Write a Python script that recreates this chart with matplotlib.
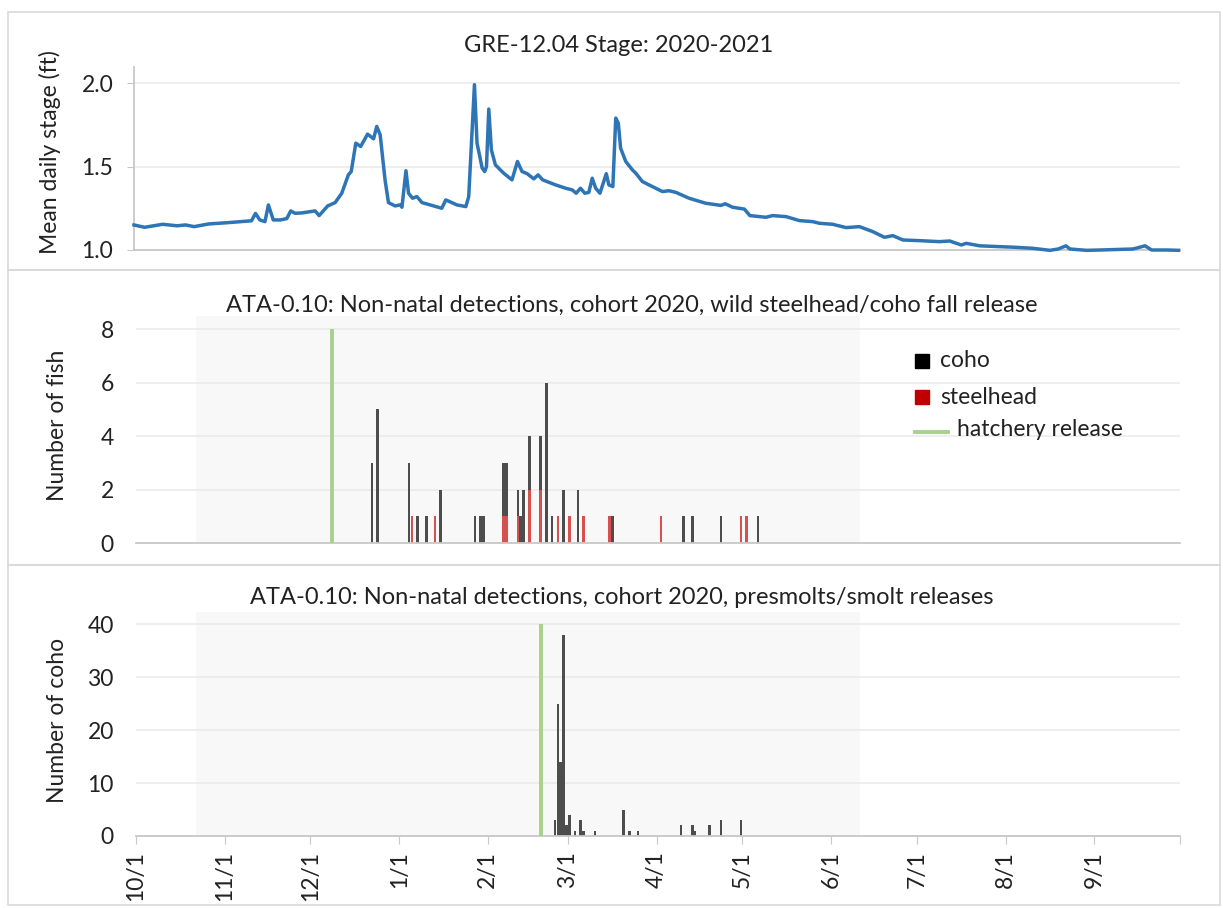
import numpy as np
import pandas as pd
import matplotlib
matplotlib.use('Agg')
import matplotlib.pyplot as plt
import matplotlib.dates as mdates
from matplotlib.lines import Line2D
from matplotlib.ticker import FuncFormatter

plt.rcParams['font.family'] = ['Lato', 'DejaVu Sans']

start = pd.Timestamp('2020-10-01')
end = pd.Timestamp('2021-10-01')

# mean daily stage (days after 10/1/2020)
stage_day = [0, 3.7, 10, 15, 18, 21, 26, 33, 37.5, 41, 42.4, 43.9, 45.7, 46.9, 48.6, 51,
             53.3, 54.7, 56.2, 58.5, 63.2, 64.6, 67.6, 70.2, 72.5, 74.8, 75.8, 77.4, 79.1,
             81.5, 83.6, 84.7, 85.9, 87.6, 88.8, 91.1, 92.9, 93.5, 94.9, 95.8, 97.2, 98.7,
             100.5, 107.4, 108.8, 110.9, 112.7, 115.8, 116.8, 118.8, 119.7, 121.5, 122.4,
             123, 123.8, 124.7, 126.1, 129, 131.9, 133.8, 135.4, 137.2, 139.5, 141, 142.6,
             147.1, 150.6, 152.9, 154.3, 155.8, 157.3, 158.7, 159.9, 161.1, 162.6, 164.8,
             165.7, 167.1, 168.1, 169, 169.8, 171.6, 173.9, 175.1, 177.4, 179.7, 184.4,
             186.7, 189.1, 193.7, 199.5, 204.8, 206.3, 208.9, 213, 214.9, 220.5, 222.8,
             227.5, 232.2, 236.8, 239.2, 243.8, 248.5, 253.1, 257.8, 261.9, 264.8, 268.3,
             274.1, 281.1, 284.6, 288.7, 290.4, 295.1, 302, 307.9, 313.7, 319.6, 322.5,
             325.2, 326.6, 332.4, 337.1, 348.6, 352.8, 355.1, 360.4, 364.5]
stage_ft = [1.15, 1.136, 1.154, 1.145, 1.15, 1.14, 1.156, 1.164, 1.17, 1.175, 1.219, 1.18,
            1.17, 1.27, 1.18, 1.18, 1.188, 1.234, 1.22, 1.222, 1.234, 1.206, 1.264, 1.284,
            1.34, 1.45, 1.47, 1.64, 1.62, 1.694, 1.666, 1.74, 1.69, 1.42, 1.284, 1.264, 1.27,
            1.256, 1.475, 1.34, 1.31, 1.32, 1.284, 1.25, 1.30, 1.284, 1.27, 1.26, 1.32, 1.99,
            1.64, 1.49, 1.47, 1.50, 1.844, 1.60, 1.51, 1.46, 1.42, 1.53, 1.47, 1.457, 1.426,
            1.45, 1.42, 1.39, 1.37, 1.36, 1.34, 1.37, 1.34, 1.345, 1.43, 1.37, 1.34, 1.457,
            1.39, 1.38, 1.79, 1.76, 1.61, 1.53, 1.48, 1.46, 1.41, 1.39, 1.35, 1.355, 1.345,
            1.31, 1.28, 1.267, 1.277, 1.256, 1.245, 1.206, 1.196, 1.206, 1.20, 1.176, 1.17,
            1.16, 1.154, 1.134, 1.14, 1.11, 1.076, 1.086, 1.06, 1.056, 1.05, 1.054, 1.03,
            1.04, 1.025, 1.02, 1.016, 1.01, 0.998, 1.006, 1.025, 1.006, 0.998, 1.0, 1.006,
            1.025, 1.0, 1.0, 0.998]

# non-natal detections, wild fall release
fall_dates = ['2020-12-22', '2020-12-24', '2021-01-04', '2021-01-05', '2021-01-07',
              '2021-01-10', '2021-01-13', '2021-01-15', '2021-01-27', '2021-01-29',
              '2021-01-30', '2021-02-06', '2021-02-07', '2021-02-11', '2021-02-12',
              '2021-02-13', '2021-02-15', '2021-02-19', '2021-02-21', '2021-02-23',
              '2021-02-25', '2021-02-27', '2021-03-01', '2021-03-04', '2021-03-06',
              '2021-03-15', '2021-03-16', '2021-04-02', '2021-04-10', '2021-04-13',
              '2021-04-23', '2021-04-30', '2021-05-02', '2021-05-06']
fall_coho = [3, 5, 3, 0, 1, 1, 0, 2, 1, 1, 1, 2, 2, 1, 1, 2, 2, 2, 6, 1,
             0, 2, 0, 2, 0, 0, 1, 0, 1, 1, 1, 0, 0, 1]
fall_steelhead = [0, 0, 0, 1, 0, 0, 1, 0, 0, 0, 0, 1, 1, 1, 0, 0, 2, 2, 0, 0,
                  1, 0, 1, 0, 1, 1, 0, 1, 0, 0, 0, 1, 1, 0]

# non-natal detections, presmolt/smolt releases (coho)
smolt_dates = ['2021-02-24', '2021-02-25', '2021-02-26', '2021-02-27', '2021-02-28',
               '2021-03-01', '2021-03-03', '2021-03-05', '2021-03-06', '2021-03-10',
               '2021-03-20', '2021-03-22', '2021-03-25', '2021-04-09', '2021-04-13',
               '2021-04-14', '2021-04-19', '2021-04-23', '2021-04-30']
smolt_coho = [3, 25, 14, 38, 2, 4, 1, 3, 1, 1, 5, 1, 1, 2, 2, 1, 2, 3, 3]

fall_release = '2020-12-08'
smolt_release = '2021-02-19'
span_start, span_end = '2020-10-22', '2021-06-11'

month_ticks = pd.date_range(start, end, freq='MS')

TXT = '#222222'
GRID = '#e9e9e9'
AXL = '#c8c8c8'
COHO = '#4d4d4d'
STEEL = '#d65050'
GREEN = '#a9d18e'
FS = 16.5

W, H = 1223, 908
fig = plt.figure(figsize=(W / 100, H / 100), dpi=100)


def box(x0, y0, x1, y1):
    return [x0 / W, 1 - y1 / H, (x1 - x0) / W, (y1 - y0) / H]


def fx(x):
    return x / W


def fy(y):
    return 1 - y / H


# chart frames
for y0, y1 in [(12, 270), (270, 565), (565, 905)]:
    fig.add_artist(plt.Rectangle((fx(8), fy(y1)), fx(1212), (y1 - y0) / H,
                                 transform=fig.transFigure, fill=False,
                                 ec='#d9d9d9', lw=1.2))

ax1 = fig.add_axes(box(134, 67, 1180, 250))
ax2 = fig.add_axes(box(136, 316, 1180, 543))
ax3 = fig.add_axes(box(136, 612, 1180, 836))

x_stage = [mdates.date2num(start + pd.Timedelta(days=d)) for d in stage_day]
x_fall = mdates.date2num(pd.to_datetime(fall_dates)) + 0.5
x_smolt = mdates.date2num(pd.to_datetime(smolt_dates)) + 0.5

for ax in (ax1, ax2, ax3):
    ax.set_xlim(mdates.date2num(start), mdates.date2num(end))
    for s in ('top', 'right', 'left'):
        ax.spines[s].set_visible(False)
    ax.spines['bottom'].set_color(AXL)
    ax.spines['bottom'].set_linewidth(1.3)
    ax.grid(axis='y', color=GRID, lw=1.1)
    ax.set_axisbelow(True)
    ax.tick_params(axis='y', labelsize=FS, labelcolor=TXT, length=0, pad=16)

# top: stage
ax1.plot(x_stage, stage_ft, color='#2e75b6', lw=2.5, clip_on=False, zorder=3,
         solid_joinstyle='round')
ax1.set_ylim(1.0, 2.096)
ax1.set_yticks([1.0, 1.5, 2.0])
ax1.yaxis.set_major_formatter(FuncFormatter(lambda v, p: f'{v:.1f}'))
ax1.spines['left'].set_visible(True)
ax1.spines['left'].set_color(AXL)
ax1.spines['left'].set_linewidth(1.3)
ax1.tick_params(axis='y', length=5, color=AXL, pad=10)
ax1.set_xticks([])

# middle: fall release
ax2.axvspan(mdates.date2num(pd.Timestamp(span_start)), mdates.date2num(pd.Timestamp(span_end)),
            color='#f8f8f8', zorder=0, lw=0)
ax2.bar(x_fall, fall_steelhead, width=0.9, color=STEEL, zorder=2)
ax2.bar(x_fall, fall_coho, width=0.9, bottom=fall_steelhead, color=COHO, zorder=2)
ax2.vlines(mdates.date2num(pd.Timestamp(fall_release)) + 0.5, 0, 8, color=GREEN, lw=2.8, zorder=3)
ax2.set_ylim(0, 8.5)
ax2.set_yticks([0, 2, 4, 6, 8])
ax2.set_xticks([])

# bottom: presmolt / smolt release
ax3.axvspan(mdates.date2num(pd.Timestamp(span_start)), mdates.date2num(pd.Timestamp(span_end)),
            color='#f8f8f8', zorder=0, lw=0)
ax3.bar(x_smolt, smolt_coho, width=0.9, color=COHO, zorder=2)
ax3.vlines(mdates.date2num(pd.Timestamp(smolt_release)) + 0.5, 0, 40, color=GREEN, lw=2.8, zorder=3)
ax3.set_ylim(0, 42.3)
ax3.set_yticks([0, 10, 20, 30, 40])
ax3.set_xticks(mdates.date2num(month_ticks))
ax3.set_xticklabels([f'{d.month}/{d.day}' if d < end else '' for d in month_ticks],
                    rotation=90, fontsize=FS, color=TXT)
ax3.tick_params(axis='x', length=6, color=AXL, pad=5)

# titles and axis labels
fig.text(fx(619), fy(45), 'GRE-12.04 Stage: 2020-2021', ha='center', va='center',
         fontsize=17, color=TXT)
fig.text(fx(632), fy(305), 'ATA-0.10: Non-natal detections, cohort 2020, wild steelhead/coho fall release',
         ha='center', va='center', fontsize=17, color=TXT)
fig.text(fx(622), fy(598), 'ATA-0.10: Non-natal detections, cohort 2020, presmolts/smolt releases',
         ha='center', va='center', fontsize=17, color=TXT)
fig.text(fx(50), fy(152), 'Mean daily stage (ft)', rotation=90, ha='center', va='center',
         fontsize=FS, color=TXT)
fig.text(fx(58), fy(425), 'Number of fish', rotation=90, ha='center', va='center',
         fontsize=FS, color=TXT)
fig.text(fx(58), fy(720), 'Number of coho', rotation=90, ha='center', va='center',
         fontsize=FS, color=TXT)

# legend
fig.add_artist(Line2D([fx(922)], [fy(361)], marker='s', ms=10, color='black', ls='none',
                      transform=fig.transFigure))
fig.add_artist(Line2D([fx(922)], [fy(397)], marker='s', ms=10, color='#c00000', ls='none',
                      transform=fig.transFigure))
fig.add_artist(Line2D([fx(915), fx(948)], [fy(432), fy(432)], color=GREEN, lw=2.8,
                      transform=fig.transFigure))
fig.text(fx(940), fy(361), 'coho', va='center', fontsize=FS, color=TXT)
fig.text(fx(940), fy(397), 'steelhead', va='center', fontsize=FS, color=TXT)
fig.text(fx(957), fy(430), 'hatchery release', va='center', fontsize=FS, color=TXT)

fig.savefig('out.png', dpi=100)
